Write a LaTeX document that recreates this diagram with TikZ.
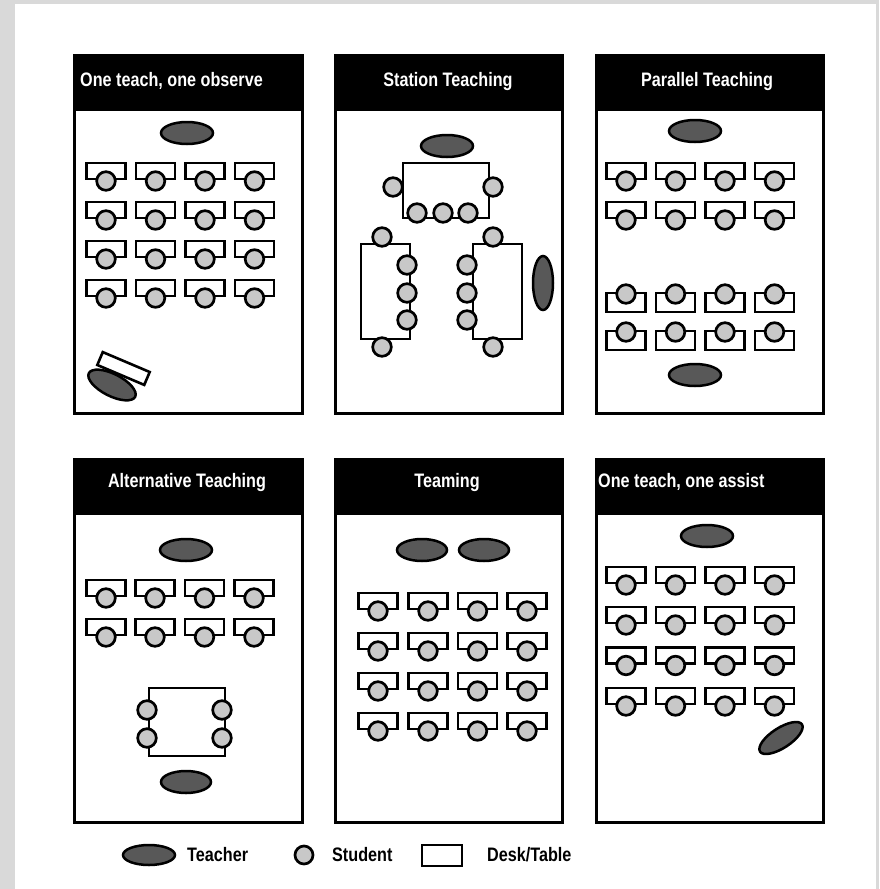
\documentclass[tikz,border=0pt]{standalone}
\usepackage{fontspec}
\newfontfamily\lab{Liberation Sans}[FakeStretch=0.83]
\definecolor{bggray}{HTML}{D9D9D9}
\definecolor{stugray}{HTML}{C8C8C8}
\definecolor{teachgray}{HTML}{585858}
\newcommand\sdown[2]{\draw[desk] ({#1-19.5},{#2-18}) rectangle ({#1+19.5},{#2-2}); \draw[stu] (#1,#2) circle[radius=9.3pt];}
\newcommand\stup[2]{\draw[desk] ({#1-19.5},{#2-1}) rectangle ({#1+19.5},{#2+18}); \draw[stu] (#1,#2) circle[radius=9.3pt];}
\newcommand\stud[2]{\draw[stu] (#1,#2) circle[radius=9.3pt];}
\newcommand\panelbox[5]{\draw[panel] (#1,#2) rectangle (#3,#4); \fill[black] (#1,#2) rectangle (#3,#5);}
\begin{document}
\begin{tikzpicture}[x=1pt,y=-1pt,
  desk/.style={draw=black, fill=white, line width=2.6pt},
  stu/.style={draw=black, fill=stugray, line width=2.7pt},
  teacher/.style={draw=black, fill=teachgray, line width=2.5pt},
  panel/.style={draw=black, line width=3pt, fill=white},
  htext/.style={text=white, font=\lab\bfseries\fontsize{19.5}{22}\selectfont, inner sep=0pt},
  ltext/.style={text=black, font=\lab\bfseries\fontsize{19.5}{22}\selectfont, inner sep=0pt, anchor=west}]
\fill[bggray] (0,0) rectangle (879,889);
\fill[white] (15,4) rectangle (876,889);
\useasboundingbox (0,0) rectangle (879,889);
% panels
\panelbox{74}{55}{302}{413}{111}
\panelbox{335}{55}{562}{413}{111}
\panelbox{596}{55}{823}{413}{111}
\panelbox{74}{459}{302}{822}{515}
\panelbox{335}{459}{562}{822}{515}
\panelbox{596}{459}{823}{822}{515}
% headers
\node[htext, anchor=west] (h1) at (80,81) {One teach, one observe};
\node[htext] (h2) at (448,81) {Station Teaching};
\node[htext] (h3) at (707,81) {Parallel Teaching};
\node[htext] (h4) at (187,482) {Alternative Teaching};
\node[htext] (h5) at (447,482) {Teaming};
\node[htext, anchor=west] (h6) at (598,482) {One teach, one assist};
% panel 1
\draw[teacher] (187,133) ellipse [x radius=26pt, y radius=11pt];
\foreach \c in {106,155.5,205,254.5} \foreach \r in {181,220,259,298} {\sdown{\c}{\r}}
\node[desk, rotate=-23, minimum width=51pt, minimum height=14pt, inner sep=0pt] (obsdesk) at (123.5,368.5) {};
\draw[teacher] (112,385) circle [x radius=26pt, y radius=11pt, rotate=-27];
% panel 2
\draw[teacher] (447,146) ellipse [x radius=26pt, y radius=11pt];
\draw[desk] (403,163) rectangle (489,218);
\stud{393}{187}\stud{493}{187}\stud{417}{213}\stud{443}{213}\stud{468}{213}
\draw[desk] (361,244) rectangle (410,339);
\stud{382}{237}\stud{382}{347}\stud{407}{265}\stud{407}{293}\stud{407}{320}
\draw[desk] (473,244) rectangle (522,339);
\stud{493}{237}\stud{493}{347}\stud{467}{265}\stud{467}{293}\stud{467}{320}
\draw[teacher] (543,283) ellipse [x radius=10pt, y radius=27pt];
% panel 3
\draw[teacher] (695,131) ellipse [x radius=26pt, y radius=11pt];
\foreach \c in {626,675.5,725,774.5} \foreach \r in {181,220} {\sdown{\c}{\r}}
\foreach \c in {626,675.5,725,774.5} \foreach \r in {294,332} {\stup{\c}{\r}}
\draw[teacher] (695,375) ellipse [x radius=26pt, y radius=11pt];
% panel 4
\draw[teacher] (186,550) ellipse [x radius=26pt, y radius=11pt];
\foreach \c in {106,155,204.5,254} \foreach \r in {598,637} {\sdown{\c}{\r}}
\draw[desk] (149,688) rectangle (225,756);
\stud{147}{710}\stud{147}{738}\stud{222}{710}\stud{222}{738}
\draw[teacher] (186,782) ellipse [x radius=25pt, y radius=11pt];
% panel 5
\draw[teacher] (422,550) ellipse [x radius=25pt, y radius=11pt];
\draw[teacher] (484,550) ellipse [x radius=25pt, y radius=11pt];
\foreach \c in {378,428,477.5,527} \foreach \r in {611,651,691,731} {\sdown{\c}{\r}}
% panel 6
\draw[teacher] (707,536) ellipse [x radius=26pt, y radius=11pt];
\foreach \c in {626,675.5,725,774.5} \foreach \r in {585,625,665.5,706} {\sdown{\c}{\r}}
\draw[teacher] (781,738) circle [x radius=25pt, y radius=10pt, rotate=33];
% legend
\draw[teacher] (149,855) ellipse [x radius=26pt, y radius=10pt];
\node[ltext] (lt) at (187,855) {Teacher};
\draw[stu] (304,855) circle [radius=9pt];
\node[ltext] (ls) at (332,855) {Student};
\draw[desk] (422,845) rectangle (462,866);
\node[ltext] (ld) at (487,855) {Desk/Table};
\end{tikzpicture}
\end{document}
